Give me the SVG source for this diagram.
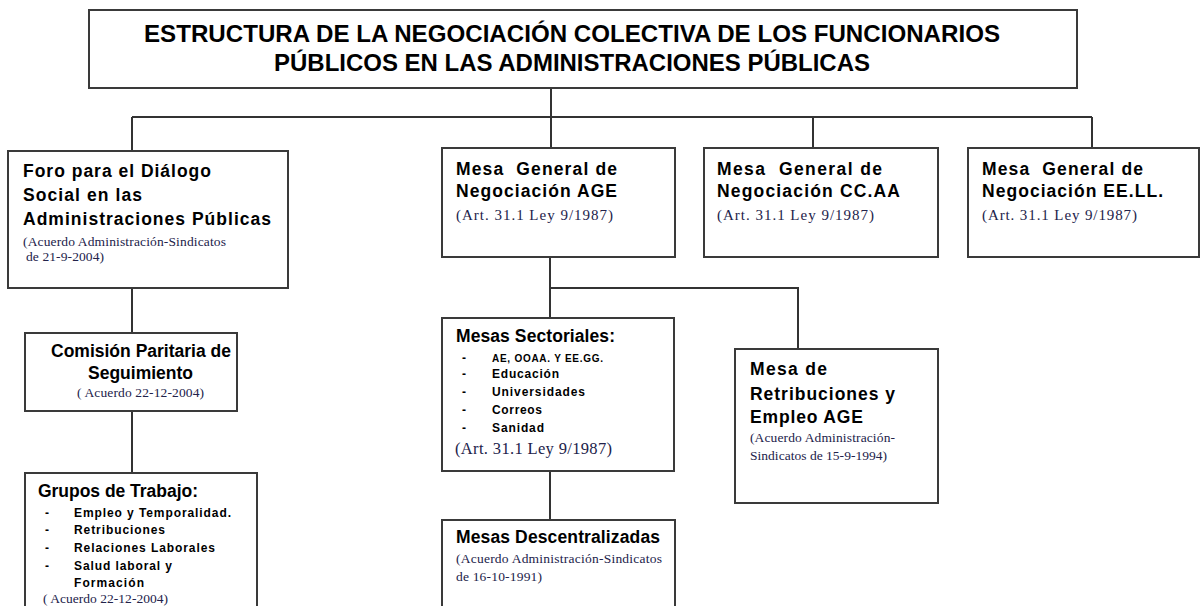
<svg xmlns="http://www.w3.org/2000/svg" width="1200" height="606" viewBox="0 0 1200 606">
<style>
.box{fill:#fff;stroke:#3a3a3a;stroke-width:2}
.ln{fill:none;stroke:#333;stroke-width:2}
.ttl{font-family:"Liberation Sans",Arial,sans-serif;font-weight:bold;font-size:24px;fill:#000}
.h{font-family:"Liberation Sans",Arial,sans-serif;font-weight:bold;font-size:17.5px;fill:#000;white-space:pre}
.b{font-family:"Liberation Sans",Arial,sans-serif;font-weight:bold;font-size:12px;fill:#000}
.bs{font-family:"Liberation Sans",Arial,sans-serif;font-weight:bold;font-size:10px;fill:#000}
.t{font-family:"Liberation Serif","Times New Roman",serif;font-size:13.5px;fill:#22224a}
.ta{font-family:"Liberation Serif","Times New Roman",serif;font-size:15px;fill:#22224a}
.tl{font-family:"Liberation Serif","Times New Roman",serif;font-size:16.5px;fill:#22224a}
</style>
<g id="connectors">
<path class="ln" d="M551 88V117"/>
<path class="ln" d="M132 117H1092"/>
<path class="ln" d="M132 117V151"/>
<path class="ln" d="M551 117V148"/>
<path class="ln" d="M813 117V148"/>
<path class="ln" d="M1092 117V148"/>
<path class="ln" d="M132 288V333"/>
<path class="ln" d="M132 411V473"/>
<path class="ln" d="M550 257V318"/>
<path class="ln" d="M550 288H798V349"/>
<path class="ln" d="M550 471V520"/>
</g>
<g id="title">
<rect class="box" x="89" y="10" width="988" height="78"/>
<text class="ttl" x="144" y="42" textLength="856" lengthAdjust="spacingAndGlyphs">ESTRUCTURA DE LA NEGOCIACIÓN COLECTIVA DE LOS FUNCIONARIOS</text>
<text class="ttl" x="274" y="71" textLength="596" lengthAdjust="spacingAndGlyphs">PÚBLICOS EN LAS ADMINISTRACIONES PÚBLICAS</text>
</g>
<g id="foro">
<rect class="box" x="8" y="151" width="280" height="137"/>
<text class="h" x="23" y="177" textLength="188" lengthAdjust="spacing">Foro para el Diálogo</text>
<text class="h" x="23" y="201" textLength="119" lengthAdjust="spacing">Social en las</text>
<text class="h" x="23" y="225" textLength="248" lengthAdjust="spacing">Administraciones Públicas</text>
<text class="t" x="23" y="246" textLength="203" lengthAdjust="spacing">(Acuerdo Administración-Sindicatos</text>
<text class="t" x="26" y="261" textLength="78" lengthAdjust="spacing">de 21-9-2004)</text>
</g>
<g id="comision">
<rect class="box" x="25" y="333" width="212" height="78"/>
<text class="h" x="51" y="357" textLength="180" lengthAdjust="spacing">Comisión Paritaria de</text>
<text class="h" x="88" y="379" textLength="105" lengthAdjust="spacing">Seguimiento</text>
<text class="t" x="77" y="397" textLength="127" lengthAdjust="spacing">( Acuerdo 22-12-2004)</text>
</g>
<g id="grupos">
<rect class="box" x="25" y="473" width="232" height="150"/>
<text class="h" x="38" y="497" textLength="160" lengthAdjust="spacing">Grupos de Trabajo:</text>
<text class="b" x="45" y="517">-</text>
<text class="b" x="74" y="517" textLength="157" lengthAdjust="spacing">Empleo y Temporalidad.</text>
<text class="b" x="45" y="534">-</text>
<text class="b" x="74" y="534" textLength="91" lengthAdjust="spacing">Retribuciones</text>
<text class="b" x="45" y="552">-</text>
<text class="b" x="74" y="552" textLength="141" lengthAdjust="spacing">Relaciones Laborales</text>
<text class="b" x="45" y="570">-</text>
<text class="b" x="74" y="570" textLength="98" lengthAdjust="spacing">Salud laboral y</text>
<text class="b" x="74" y="587" textLength="70" lengthAdjust="spacing">Formación</text>
<text class="t" x="43" y="603" textLength="125" lengthAdjust="spacing">( Acuerdo 22-12-2004)</text>
</g>
<g id="mesa-age">
<rect class="box" x="442" y="148" width="233" height="109"/>
<text class="h" x="456" y="175" textLength="161" lengthAdjust="spacing">Mesa  General de</text>
<text class="h" x="456" y="197" textLength="161" lengthAdjust="spacing">Negociación AGE</text>
<text class="ta" x="456" y="220" textLength="157" lengthAdjust="spacing">(Art. 31.1 Ley 9/1987)</text>
</g>
<g id="mesa-ccaa">
<rect class="box" x="704" y="148" width="234" height="109"/>
<text class="h" x="717" y="175" textLength="165" lengthAdjust="spacing">Mesa  General de</text>
<text class="h" x="717" y="197" textLength="183" lengthAdjust="spacing">Negociación CC.AA</text>
<text class="ta" x="717" y="220" textLength="157" lengthAdjust="spacing">(Art. 31.1 Ley 9/1987)</text>
</g>
<g id="mesa-eell">
<rect class="box" x="968" y="148" width="231" height="109"/>
<text class="h" x="982" y="175" textLength="161" lengthAdjust="spacing">Mesa  General de</text>
<text class="h" x="982" y="197" textLength="181" lengthAdjust="spacing">Negociación EE.LL.</text>
<text class="ta" x="982" y="220" textLength="155" lengthAdjust="spacing">(Art. 31.1 Ley 9/1987)</text>
</g>
<g id="sectoriales">
<rect class="box" x="442" y="318" width="232" height="153"/>
<text class="h" x="456" y="342" textLength="159" lengthAdjust="spacing">Mesas Sectoriales:</text>
<text class="b" x="462" y="362">-</text>
<text class="bs" x="492" y="362" textLength="111" lengthAdjust="spacing">AE, OOAA. Y EE.GG.</text>
<text class="b" x="462" y="378">-</text>
<text class="b" x="492" y="378" textLength="67" lengthAdjust="spacing">Educación</text>
<text class="b" x="462" y="396">-</text>
<text class="b" x="492" y="396" textLength="93" lengthAdjust="spacing">Universidades</text>
<text class="b" x="462" y="414">-</text>
<text class="b" x="492" y="414" textLength="50" lengthAdjust="spacing">Correos</text>
<text class="b" x="462" y="432">-</text>
<text class="b" x="492" y="432" textLength="52" lengthAdjust="spacing">Sanidad</text>
<text class="tl" x="455" y="454" textLength="157" lengthAdjust="spacing">(Art. 31.1 Ley 9/1987)</text>
</g>
<g id="descentralizadas">
<rect class="box" x="442" y="520" width="233" height="110"/>
<text class="h" x="456" y="543" textLength="204" lengthAdjust="spacing">Mesas Descentralizadas</text>
<text class="t" x="456" y="563" textLength="206" lengthAdjust="spacing">(Acuerdo Administración-Sindicatos</text>
<text class="t" x="456" y="581" textLength="86" lengthAdjust="spacing">de 16-10-1991)</text>
</g>
<g id="retribuciones">
<rect class="box" x="735" y="349" width="203" height="154"/>
<text class="h" x="750" y="375" textLength="77" lengthAdjust="spacing">Mesa de</text>
<text class="h" x="750" y="400" textLength="145" lengthAdjust="spacing">Retribuciones y</text>
<text class="h" x="750" y="423" textLength="113" lengthAdjust="spacing">Empleo AGE</text>
<text class="t" x="750" y="442" textLength="145" lengthAdjust="spacing">(Acuerdo Administración-</text>
<text class="t" x="750" y="460" textLength="137" lengthAdjust="spacing">Sindicatos de 15-9-1994)</text>
</g>
</svg>
